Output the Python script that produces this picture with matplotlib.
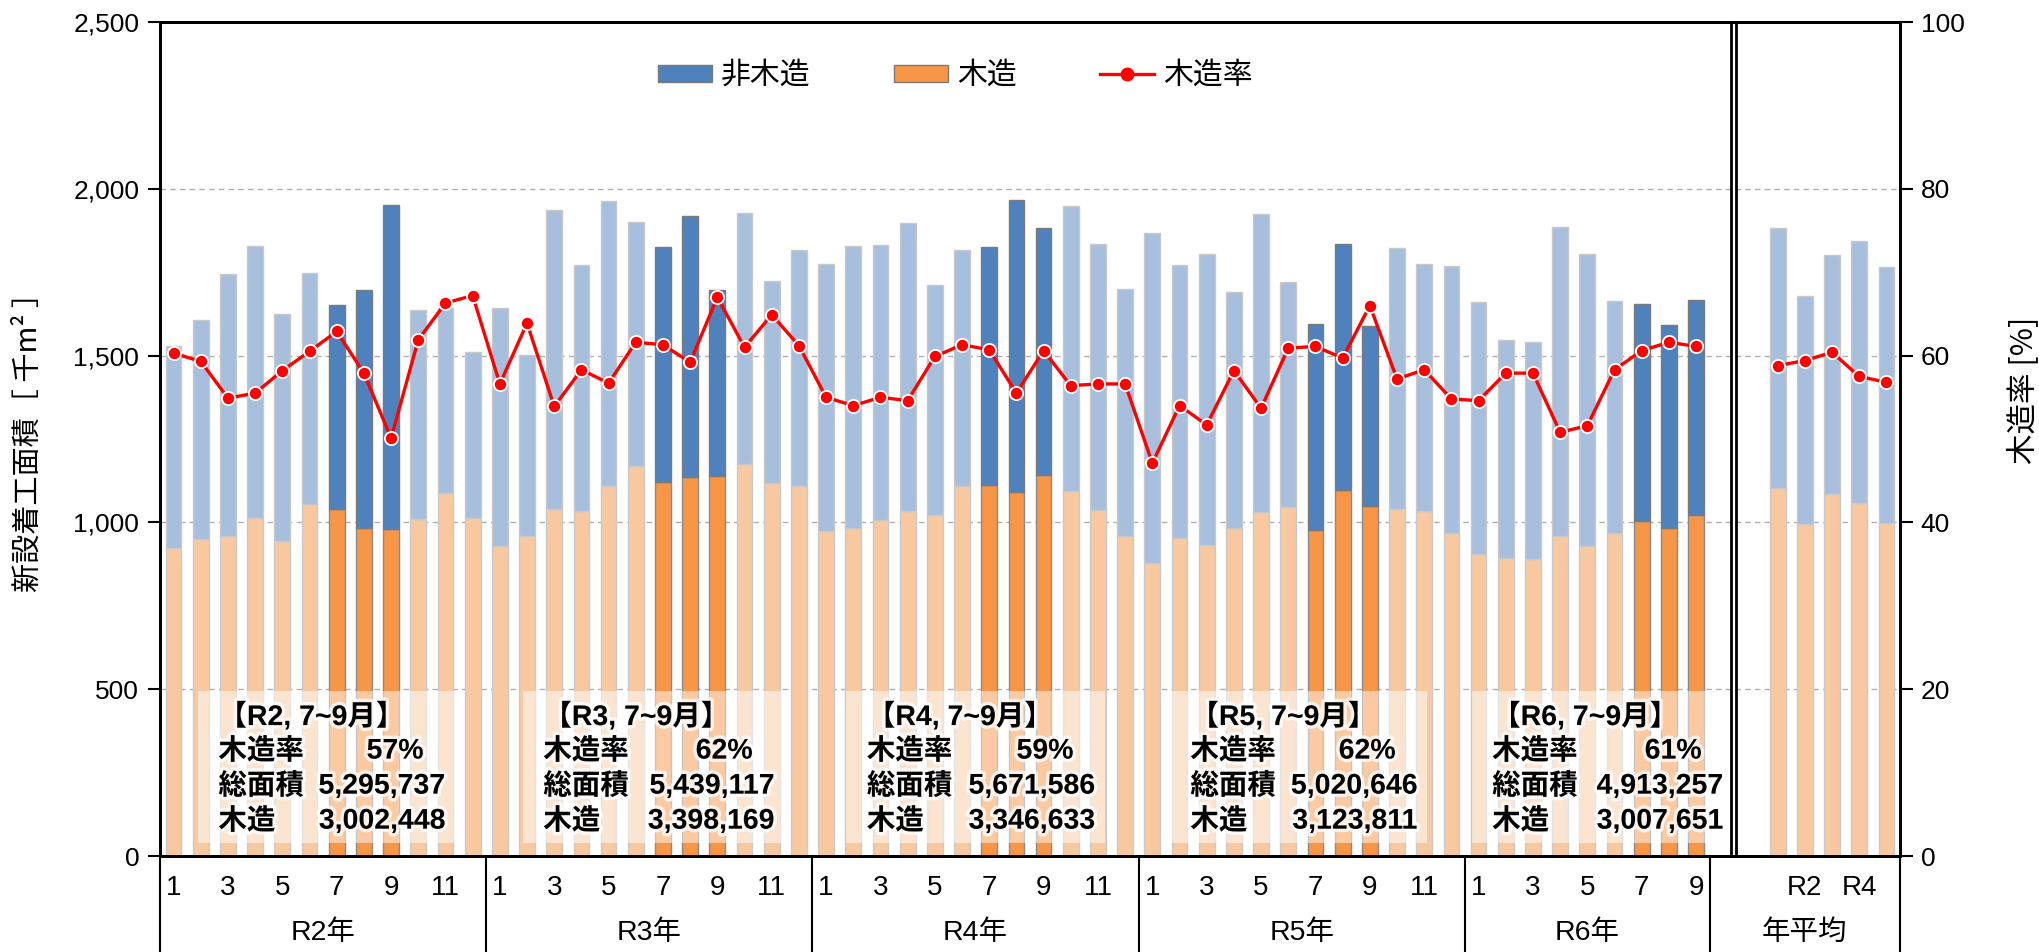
import numpy as np
import matplotlib
matplotlib.use("Agg")
import matplotlib.pyplot as plt
import matplotlib.patheffects as pe
import matplotlib.transforms as mtransforms
from matplotlib.patches import Patch, Rectangle
from matplotlib.lines import Line2D
from matplotlib import font_manager
from matplotlib.ticker import FuncFormatter

# monthly data, thousand m2 (R2 Jan .. R6 Sep)
years = ["R2", "R3", "R4", "R5", "R6"]
months_per_year = [12, 12, 12, 12, 9]

total_r2 = [1530, 1608, 1745, 1828, 1625, 1748, 1653, 1696, 1951, 1636, 1642, 1511]
total_r3 = [1642, 1501, 1936, 1773, 1963, 1899, 1827, 1917, 1698, 1927, 1725, 1817]
total_r4 = [1776, 1828, 1833, 1897, 1711, 1817, 1827, 1966, 1882, 1947, 1836, 1700]
total_r5 = [1867, 1772, 1805, 1690, 1925, 1720, 1596, 1836, 1589, 1822, 1775, 1768]
total_r6 = [1661, 1548, 1541, 1885, 1805, 1664, 1655, 1592, 1667]

wood_r2 = [922, 951, 959, 1014, 943, 1055, 1040, 982, 980, 1010, 1088, 1014]
wood_r3 = [928, 959, 1040, 1033, 1110, 1169, 1121, 1137, 1140, 1174, 1118, 1110]
wood_r4 = [974, 983, 1006, 1033, 1023, 1110, 1112, 1092, 1143, 1094, 1037, 960]
wood_r5 = [878, 954, 933, 983, 1032, 1046, 976, 1098, 1050, 1041, 1035, 967]
wood_r6 = [905, 892, 891, 958, 930, 969, 1005, 982, 1021]

ratio_r2 = [60.3, 59.3, 54.9, 55.5, 58.2, 60.5, 62.9, 57.9, 50.1, 61.9, 66.3, 67.2]
ratio_r3 = [56.6, 63.9, 53.9, 58.3, 56.7, 61.6, 61.3, 59.2, 67.0, 61.0, 64.9, 61.2]
ratio_r4 = [55.0, 54.0, 55.0, 54.6, 59.9, 61.3, 60.7, 55.5, 60.6, 56.4, 56.6, 56.6]
ratio_r5 = [47.1, 54.0, 51.7, 58.2, 53.7, 60.9, 61.1, 59.7, 66.0, 57.2, 58.3, 54.8]
ratio_r6 = [54.6, 57.9, 57.9, 50.8, 51.6, 58.3, 60.6, 61.6, 61.1]

# yearly averages
avg_labels = ["R1", "R2", "R3", "R4", "R5"]
avg_total = [1883, 1680, 1803, 1844, 1765]
avg_wood = [1104, 995, 1086, 1058, 999]
avg_ratio = [58.8, 59.4, 60.4, 57.5, 56.8]

highlight_months = [7, 8, 9]

summary_ratio = ["57%", "62%", "59%", "62%", "61%"]
summary_total = ["5,295,737", "5,439,117", "5,671,586", "5,020,646", "4,913,257"]
summary_wood = ["3,002,448", "3,398,169", "3,346,633", "3,123,811", "3,007,651"]

C_BLUE = "#4f81bd"
C_BLUE_L = "#a7bfdd"
C_ORANGE = "#f79646"
C_ORANGE_L = "#f8c9a1"

names = {f.name for f in font_manager.fontManager.ttflist}
narrow = "Liberation Sans Narrow" if "Liberation Sans Narrow" in names else "Liberation Sans"
JP = "Noto Sans CJK JP"
plt.rcParams["font.family"] = ["Liberation Sans", JP, "DejaVu Sans"]


def main():
    total = np.array(total_r2 + total_r3 + total_r4 + total_r5 + total_r6, dtype=float)
    wood = np.array(wood_r2 + wood_r3 + wood_r4 + wood_r5 + wood_r6, dtype=float)
    ratio = np.array(ratio_r2 + ratio_r3 + ratio_r4 + ratio_r5 + ratio_r6)
    month_no = np.concatenate([np.arange(1, n + 1) for n in months_per_year])
    n_month = len(total)
    x_month = np.arange(n_month)
    n_blank = 2
    x_avg = np.arange(len(avg_total)) + n_month + n_blank
    n_slots = n_month + n_blank + len(avg_total)

    hl = np.isin(month_no, highlight_months)

    fig = plt.figure(figsize=(20.4, 9.52), dpi=100)
    ax = fig.add_axes([160 / 2040, 96 / 952, 1740 / 2040, 834 / 952])
    ax2 = ax.twinx()

    w = 0.58
    # monthly bars
    ax.bar(x_month, wood, w, color=np.where(hl, C_ORANGE, C_ORANGE_L),
           edgecolor=np.where(hl, "#8a8a8a", "#c9c9c9"), linewidth=1, zorder=2)
    ax.bar(x_month, total - wood, w, bottom=wood, color=np.where(hl, C_BLUE, C_BLUE_L),
           edgecolor=np.where(hl, "#7a7a7a", "#c9c9c9"), linewidth=1, zorder=2)
    # yearly average bars
    aw = np.array(avg_wood, dtype=float)
    at = np.array(avg_total, dtype=float)
    ax.bar(x_avg, aw, w, color=C_ORANGE_L, edgecolor="#c9c9c9", linewidth=1, zorder=2)
    ax.bar(x_avg, at - aw, w, bottom=aw, color=C_BLUE_L, edgecolor="#c9c9c9", linewidth=1, zorder=2)

    ax.set_xlim(-0.5, n_slots - 0.5)
    ax.set_ylim(0, 2500)
    ax.set_yticks(np.arange(0, 2501, 500))
    ax.yaxis.set_major_formatter(FuncFormatter(lambda v, p: f"{int(v):,}"))
    ax.yaxis.grid(True, linestyle=(0, (4, 3)), color="#b0b0b0", linewidth=1, zorder=0)
    ax.set_axisbelow(True)
    ax.tick_params(axis="y", direction="out", length=9, width=1.5, labelsize=19, pad=6)

    # category labels (every other category, as in the source chart)
    cat_labels = [str(m) for m in month_no] + [""] * n_blank + avg_labels
    ticks = np.arange(0, n_slots, 2)
    ax.set_xticks(ticks)
    ax.set_xticklabels([cat_labels[i] for i in ticks], fontfamily=[narrow, JP], fontsize=20)
    ax.tick_params(axis="x", length=0, pad=14)

    for sp in ax.spines.values():
        sp.set_linewidth(2)
    for sp in ax2.spines.values():
        sp.set_linewidth(2)

    # ratio line
    ax2.plot(x_month, ratio, color="red", lw=2.4, marker="o", ms=9.5,
             mfc="red", mec="white", mew=1.3, zorder=5)
    ax2.plot(x_avg, avg_ratio, color="red", lw=2.4, marker="o", ms=9.5,
             mfc="red", mec="white", mew=1.3, zorder=5)
    ax2.set_ylim(0, 100)
    ax2.set_yticks(np.arange(0, 101, 20))
    ax2.tick_params(axis="y", direction="out", length=9, width=1.5, labelsize=19, pad=6)

    # year group separators and labels below the axis
    trans = mtransforms.blended_transform_factory(ax.transData, ax.transAxes)
    starts = np.cumsum([0] + months_per_year) - 0.5
    seps = list(starts) + [n_slots - 0.5]
    for s in seps:
        ax.plot([s, s], [0, -0.12], transform=trans, color="black", lw=1.5, clip_on=False)
    group_labels = [y + "年" for y in years] + ["年平均"]
    for i, lab in enumerate(group_labels):
        xc = (seps[i] + seps[i + 1]) / 2
        ax.text(xc, -0.092, lab, transform=trans, ha="center", va="center",
                fontsize=20.5, fontfamily=[narrow, JP])

    # double separator before the yearly averages
    ax.vlines([n_month + 0.3, n_month + 0.46], -8, 2500, color="black", lw=2, zorder=6)

    # summary boxes for Jul-Sep of each year
    x_start = [1.65, 13.6, 25.5, 37.4, 48.5]
    x_end = [10.0, 22.1, 33.9, 45.75, 57.0]
    glow = [pe.withStroke(linewidth=5, foreground="white", alpha=0.75)]
    fam = [narrow, JP]
    for i, y in enumerate(years):
        x0, x1 = x_start[i], x_end[i]
        ax.add_patch(Rectangle((x0 - 0.75, 40), x1 - x0 + 1.1, 455, facecolor="white",
                               edgecolor="none", alpha=0.5, zorder=4))
        kw = dict(fontsize=20.5, fontfamily=fam, fontweight="bold", va="center",
                  zorder=7, path_effects=glow)
        ax.text(x0, 417, f"【{y}, 7~9月】", ha="left", **kw)
        ax.text(x0, 313, "木造率", ha="left", **kw)
        ax.text(x1 - 0.8, 313, summary_ratio[i], ha="right", **kw)
        ax.text(x0, 208, "総面積", ha="left", **kw)
        ax.text(x1, 208, summary_total[i], ha="right", **kw)
        ax.text(x0, 103, "木造", ha="left", **kw)
        ax.text(x1, 103, summary_wood[i], ha="right", **kw)

    # legend
    handles = [
        Patch(facecolor=C_BLUE, edgecolor="#7a7a7a", label="非木造"),
        Patch(facecolor=C_ORANGE, edgecolor="#7a7a7a", label="木造"),
        Line2D([], [], color="red", lw=2.4, marker="o", ms=9, mfc="red", mec="red", label="木造率"),
    ]
    ax.legend(handles=handles, loc="center", bbox_to_anchor=(0.457, 0.936), ncol=3,
              frameon=False, prop={"family": JP, "size": 21.5}, handlelength=1.8,
              handleheight=0.5, handletextpad=0.3, columnspacing=2.8)

    fig.text(29 / 2040, 1 - 435 / 952, "新設着工面積［ 千m² ］", rotation=90,
             ha="center", va="center", fontsize=21, fontfamily=JP)
    fig.text(2023 / 2040, 1 - 390 / 952, "木造率 [%]", rotation=90,
             ha="center", va="center", fontsize=22, fontfamily=JP)

    fig.savefig("out.png", dpi=100)


if __name__ == "__main__":
    main()
